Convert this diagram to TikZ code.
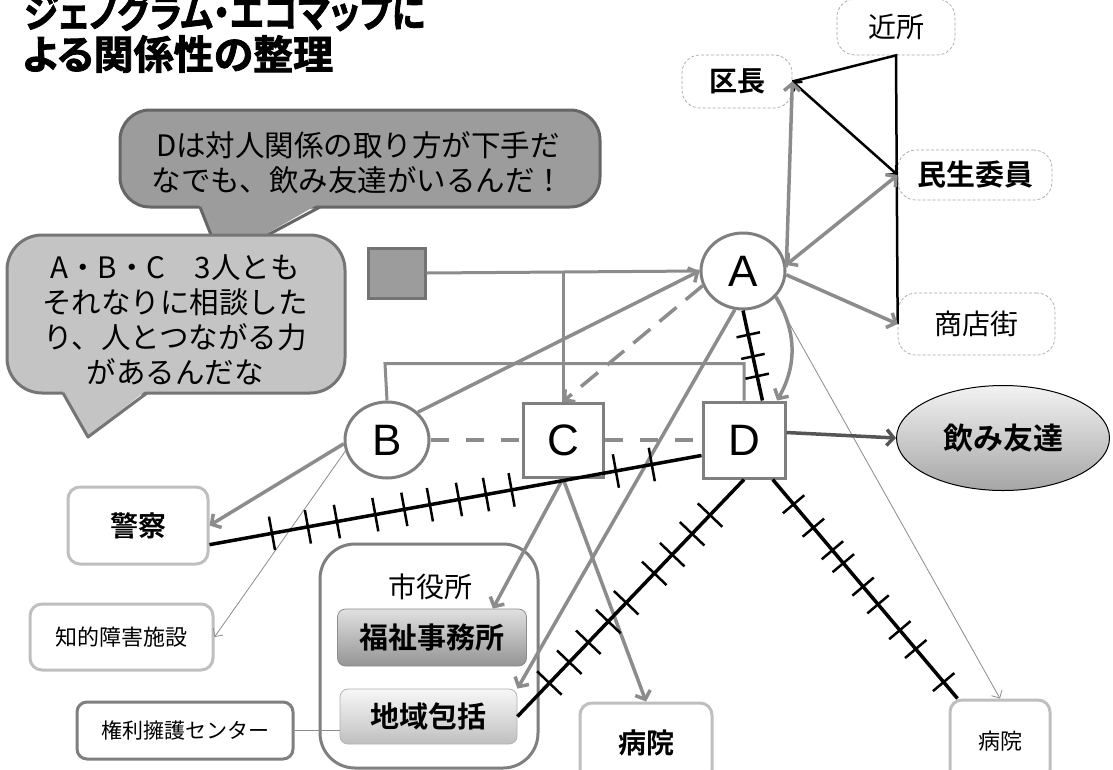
\documentclass[tikz,border=0pt]{standalone}
\usepackage{fontspec}
\usepackage{graphicx}
\setmainfont{Noto Sans CJK JP}[BoldFont={* Bold}]
\newfontfamily\titlefont{Noto Sans CJK JP}[UprightFont={* Bold},FakeBold=2,RawFeature=+palt]
\newfontfamily\latinfont{Liberation Sans}
\usetikzlibrary{arrows.meta,shapes.geometric,decorations.markings,calc}
\newcommand\fsz[1]{\fontsize{#1}{#1}\selectfont}
\definecolor{lnGray}{HTML}{8C8C8C}
\definecolor{bdGray}{HTML}{7F7F7F}
\definecolor{lightBd}{HTML}{BFBFBF}
\definecolor{bubA}{HTML}{9C9C9C}
\definecolor{bubB}{HTML}{C4C4C4}
\definecolor{bubBd}{HTML}{666666}
\definecolor{sqFill}{HTML}{9C9C9C}
\definecolor{darkArrow}{HTML}{555555}
\tikzset{
 ticklen/.initial=13pt,
 garrow/.style={draw=lnGray, line width=3.5pt, -{Straight Barb[length=7pt,width=16pt]}},
 garrows/.style={draw=lnGray, line width=3.5pt, {Straight Barb[length=7pt,width=16pt]}-{Straight Barb[length=7pt,width=16pt]}},
 thinarrow/.style={draw=lnGray, line width=0.8pt, -{Straight Barb[length=6pt,width=12pt]}},
 blkline/.style={draw=black, line width=3.5pt},
 tickat/.style={postaction={decorate, decoration={markings, mark=at position #1 with {\draw[black, line width=2.5pt] (0pt,-\pgfkeysvalueof{/tikz/ticklen}) -- (0pt,\pgfkeysvalueof{/tikz/ticklen});}}}},
 ticks/.style={tickat/.list={#1}},
 geno/.style={draw=lnGray, line width=3pt},
 person/.style={draw=bdGray, line width=3pt, fill=white, inner sep=0pt, font=\latinfont\fsz{44}},
 softbox/.style={draw=black!35, densely dashed, line width=0.7pt, fill=white, rounded corners=18pt, inner sep=0pt},
 graybox/.style={draw=lightBd, line width=3pt, fill=white, rounded corners=12pt, inner sep=0pt},
 bubtext/.style={align=center, inner sep=0pt, font=\fontsize{29.5}{35}\selectfont},
}
\begin{document}
\begin{tikzpicture}[x=1pt,y=-1pt]
\useasboundingbox (0,0) rectangle (1113,769);
\fill[white] (0,0) rectangle (1113,769);

% speech bubble 1
\filldraw[fill=bubA, draw=bubBd, line width=3pt, rounded corners=30pt] (120,110) rectangle (600,207);
\fill[bubA] (198,202) -- (221,260) -- (322,202) -- cycle;
\draw[bubBd, line width=3pt, line join=round] (200,207) -- (221,260) -- (320,207);
\node[bubtext] (bt1) at (358,163) {Dは対人関係の取り方が下手だ\\なでも、飲み友達がいるんだ！};

% speech bubble 2
\filldraw[fill=bubB, draw=bubBd!90, line width=3pt, rounded corners=35pt] (7,235) rectangle (345,393);
\fill[bubB] (61,388) -- (88,437) -- (149,388) -- cycle;
\draw[bubBd!90, line width=3pt, line join=round] (63,393) -- (88,437) -- (147,393);
\node[bubtext] (bt2) at (175,320) {A・B・C　3人とも\\それなりに相談した\\り、人とつながる力\\があるんだな};

% title
\node[anchor=west, inner sep=0pt, font=\titlefont\fsz{40}] (t1) at (24,12) {\scalebox{0.87}[1]{ジェノグラム・エコマップに}};
\node[anchor=west, inner sep=0pt, font=\titlefont\fsz{40}] (t2) at (22,54) {よる関係性の整理};

% eco-map nodes
\node[softbox, minimum width=118pt, minimum height=56pt, font=\fsz{28}] (kinjo) at (896,27) {近所};
\node[softbox, minimum width=110pt, minimum height=53pt, font=\bfseries\fsz{28}] (kucho) at (737,81.5) {区長};
\node[softbox, minimum width=154pt, minimum height=50pt, font=\bfseries\fsz{29}] (minsei) at (975,175) {民生委員};
\node[softbox, minimum width=157pt, minimum height=62pt, font=\fsz{28}] (shoten) at (976.5,324) {商店街};
\node[ellipse, draw=black, line width=1pt, top color=black!5, bottom color=black!35, minimum width=213pt, minimum height=105pt, inner sep=0pt, font=\bfseries\fsz{30}] (nomi) at (1003,438) {飲み友達};

\node[graybox, minimum width=140pt, minimum height=77pt, font=\bfseries\fsz{28}] (keisatsu) at (138,525.5) {警察};
\node[graybox, minimum width=183pt, minimum height=66pt, font=\fsz{22}] (chiteki) at (121.5,637) {知的障害施設};
\node[draw=bdGray, line width=3pt, fill=white, rounded corners=10pt, inner sep=0pt, minimum width=216pt, minimum height=57pt, font=\fsz{21}] (kenri) at (185,730.5) {権利擁護センター};
\node[draw=bdGray, line width=3pt, rounded corners=35pt, minimum width=218pt, minimum height=224pt, inner sep=0pt] (shi) at (429,656) {};
\node[inner sep=0pt, font=\fsz{28}] (shilbl) at (430,587) {市役所};
\node[draw=black!45, line width=0.8pt, rounded corners=8pt, top color=black!12, bottom color=black!42, minimum width=189pt, minimum height=57pt, inner sep=0pt, font=\bfseries\fsz{29}] (fukushi) at (432,637.5) {福祉事務所};
\node[draw=black!30, line width=0.8pt, rounded corners=8pt, top color=black!3, bottom color=black!25, minimum width=177pt, minimum height=55pt, inner sep=0pt, font=\bfseries\fsz{29}] (chiiki) at (428.5,716.5) {地域包括};
\node[graybox, minimum width=132pt, minimum height=79pt, font=\bfseries\fsz{28}] (byoin1) at (646,742.5) {病院};
\node[graybox, minimum width=100pt, minimum height=82pt, font=\fsz{22}] (byoin2) at (1000,741) {病院};

% genogram
\node[draw=black!55, line width=3pt, fill=sqFill, minimum width=57pt, minimum height=50pt, inner sep=0pt] (sq) at (396.5,273) {};
\node[person, ellipse, minimum width=84pt, minimum height=76pt] (A) at (743,271) {A};
\node[person, ellipse, minimum width=84pt, minimum height=76pt] (B) at (387,440) {B};
\node[person, rectangle, minimum width=80pt, minimum height=74pt] (C) at (563,440) {C};
\node[person, rectangle, minimum width=82pt, minimum height=76pt] (D) at (744,440) {D};

\draw[geno] (sq.east) -- (A.west);
\draw[geno] (sq.east -| C.north) -- (C.north);
\draw[geno] (B.north) -- ++(-2,-37) -| (D.north);
\draw[draw=lnGray, line width=4pt, dash pattern=on 18pt off 17pt] (B.east) -- (C.west);
\draw[draw=lnGray, line width=4pt, dash pattern=on 18pt off 17pt] (C.east) -- (D.west);

% black relations top right
\draw[black, line width=2.5pt] (kucho.east) -- (kinjo.south) -- (shoten.west);
\draw[black, line width=2.5pt, {Straight Barb[length=6pt,width=13pt]}-{Straight Barb[length=6pt,width=13pt]}] (kucho.east) -- (minsei.west);

% gray arrows
\draw[garrow] (A.5) -- (kucho.east);
\draw[garrows] (A.8) -- (minsei.west);
\draw[garrow] (A.-5) -- (shoten.west);
\draw[garrow] (B.42) -- (A.west);
\draw[garrow, dash pattern=on 22pt off 12pt] (A.200) -- (C.north);
\draw[garrow] (A.-38) to[bend left=30] (D.50);
\draw[garrow] (A.258) -- (chiiki.north east);
\draw[garrow] (C.south) -- ($(fukushi.north east)+(-34,0)$);
\draw[garrow] (C.south) -- (byoin1.north);
\draw[garrow] (B.185) -- (keisatsu.east);
\draw[thinarrow] (B.195) -- (chiteki.east);
\draw[thinarrow] (A.-40) -- (byoin2.north);
\draw[draw=darkArrow, line width=3.5pt, -{Straight Barb[length=7pt,width=16pt]}] (D.10) -- (nomi.west);
\draw[draw=lnGray, line width=1pt] (kenri.east) -- (kenri.east -| chiiki.west);

% hatched (conflict) lines
\draw[blkline, ticklen=12pt, ticks={0.27,0.51,0.73}] (A.south) -- (D.65);
\draw[blkline, ticklen=17pt, ticks={0.127,0.2,0.259,0.337,0.396,0.448,0.507,0.562,0.614,0.826,0.899}] (keisatsu.-15) -- (D.200);
\draw[blkline, ticklen=17pt, ticks={0.15,0.229,0.317,0.396,0.52,0.599,0.687,0.771,0.859}] (D.south) -- (chiiki.east);
\draw[blkline, ticklen=14pt, ticks={0.113,0.22,0.323,0.382,0.489,0.57,0.688,0.774,0.925}] (D.-54) -- (byoin2.135);
\end{tikzpicture}
\end{document}
